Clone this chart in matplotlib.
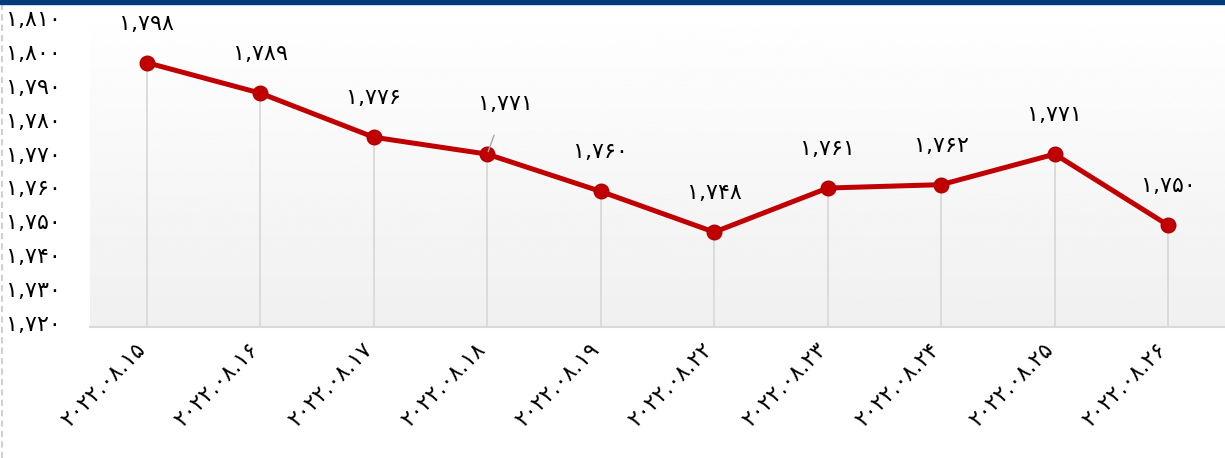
import numpy as np
import matplotlib
matplotlib.use("Agg")
import matplotlib.pyplot as plt
import matplotlib.transforms as mtransforms
from matplotlib.lines import Line2D
from matplotlib.patches import Rectangle

plt.rcParams['font.family'] = ['DejaVu Sans']

# data
dates = ['2022.08.15', '2022.08.16', '2022.08.17', '2022.08.18', '2022.08.19',
         '2022.08.22', '2022.08.23', '2022.08.24', '2022.08.25', '2022.08.26']
values = [1798, 1789, 1776, 1771, 1760, 1748, 1761, 1762, 1771, 1750]
yticks = [1720, 1730, 1740, 1750, 1760, 1770, 1780, 1790, 1800, 1810]

fa = str.maketrans('0123456789', '۰۱۲۳۴۵۶۷۸۹')

def persian(s):
    return str(s).translate(fa)

def fmt(v):
    return persian(f'{v:,}')

fig = plt.figure(figsize=(12.25, 4.58), dpi=100)
ax = fig.add_axes([90 / 1225, 1 - 327 / 458, 1 - 90 / 1225, 323 / 458])

x = np.arange(len(values))
ymin, ymax = 1720, 1815.3

# gradient background
grad = np.linspace(1.0, 0.94, 256).reshape(-1, 1)
ax.imshow(grad, extent=(-0.5, 9.5, ymin, ymax), aspect='auto', cmap='gray',
          vmin=0, vmax=1, zorder=0, origin='upper')

# drop lines
ax.vlines(x, ymin, values, color='#d9d9d9', lw=1.3, zorder=1)

ax.plot(x, values, color='#c00000', lw=3.6, marker='o', ms=10.5,
        mfc='#c00000', mec='#b00000', zorder=3)

for i, v in enumerate(values):
    if i == 3:
        ax.annotate(fmt(v), xy=(i, v), xytext=(18, 50), textcoords='offset pixels',
                    ha='center', va='center', fontsize=16,
                    arrowprops=dict(arrowstyle='-', color='#a6a6a6', lw=1,
                                    shrinkA=14, shrinkB=2))
    else:
        ax.annotate(fmt(v), xy=(i, v), xytext=(0, 39), textcoords='offset pixels',
                    ha='center', va='center', fontsize=16)

ax.set_xlim(-0.5, 9.5)
ax.set_ylim(ymin, ymax)
ax.set_yticks(yticks)
ax.set_yticklabels([fmt(t) for t in yticks], fontsize=16)
ax.set_xticks(x)
ax.set_xticklabels([persian(d) for d in dates], fontsize=16, rotation=45,
                   ha='right', va='center', rotation_mode='anchor')
ax.tick_params(axis='y', length=0, pad=21)
ax.tick_params(axis='x', length=0, pad=14)

# nudge labels like the original
up = mtransforms.ScaledTranslation(0, 4 / 100, fig.dpi_scale_trans)
for lab in ax.get_yticklabels():
    lab.set_transform(lab.get_transform() + up)
left = mtransforms.ScaledTranslation(-5 / 100, 0, fig.dpi_scale_trans)
for lab in ax.get_xticklabels():
    lab.set_transform(lab.get_transform() + left)

for s in ['top', 'right', 'left']:
    ax.spines[s].set_visible(False)
ax.spines['bottom'].set_color('#d9d9d9')
ax.spines['bottom'].set_linewidth(1.5)

# top bar and dashed left border
fig.patches.append(Rectangle((0, 1 - 4 / 458), 1, 4 / 458, transform=fig.transFigure,
                             color='#003c78', zorder=10))
fig.lines.append(Line2D([1.5 / 1225, 1.5 / 1225], [0, 1 - 4 / 458], transform=fig.transFigure,
                        color='#d0d0d0', lw=1.5, ls=(0, (3, 2))))

fig.savefig('out.png', dpi=100)
